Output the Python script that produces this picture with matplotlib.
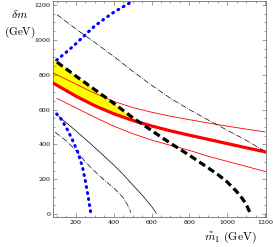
import numpy as np
import matplotlib
matplotlib.use("Agg")
import matplotlib.pyplot as plt
from matplotlib.ticker import MultipleLocator

plt.rcParams['mathtext.fontset'] = 'cm'
plt.rcParams['font.family'] = ['DejaVu Serif']

# blue dotted curves
blue_up_x = [98, 150, 200, 250, 300, 350, 400, 450, 500]
blue_up_y = [884, 930, 978, 1030, 1080, 1120, 1158, 1190, 1222]
blue_lo_x = [98, 120, 150, 180, 210, 235, 250, 265, 278]
blue_lo_y = [575, 548, 495, 430, 355, 270, 190, 100, 10]

# thick black dashed
bk_x = [100, 200, 300, 400, 500, 600, 700, 800, 900, 950, 1000, 1050, 1080, 1100, 1120]
bk_y = [872, 792, 714, 636, 554, 480, 407, 338, 265, 228, 185, 130, 90, 58, 10]

# thick red and thin red band
red_x = [80, 200, 300, 400, 500, 600, 700, 800, 900, 1000, 1100, 1200]
red_y = [752, 677, 622, 576, 538, 506, 478, 453, 429, 405, 381, 358]
red_up_y = [810, 746, 693, 647, 612, 585, 562, 542, 523, 505, 488, 472]
red_lo_x = [100, 200, 300, 400, 500, 600, 700, 800, 900, 1000, 1100, 1200]
red_lo_y = [664, 610, 556, 505, 462, 425, 395, 366, 332, 303, 274, 245]

# yellow region
yel_x = [80, 100, 200, 300, 400, 500, 550]
yel_top = [888, 872, 792, 714, 636, 554, 520]
yel_bot = [752, 740, 677, 622, 576, 538, 520]

# thin black lines
dd_up_x = [100, 200, 300, 400, 500, 600, 700, 800, 900, 1000, 1100, 1190]
dd_up_y = [1145, 1062, 985, 905, 820, 740, 665, 600, 540, 482, 424, 367]
dd_lo_x = [90, 150, 200, 250, 300, 350, 400, 450, 480, 490]
dd_lo_y = [470, 420, 365, 300, 245, 195, 150, 95, 40, 8]
sol_x = [110, 200, 300, 400, 450, 500, 550, 600, 625]
sol_y = [560, 478, 382, 282, 228, 168, 110, 45, 5]

fig = plt.figure(figsize=(2.73, 2.47), dpi=100)
ax = fig.add_axes([0.195, 0.121, 0.779, 0.875])

ax.fill_between(yel_x, yel_bot, yel_top, color='#ffff00', lw=0)
ax.plot(red_x, red_up_y, color='red', lw=0.6)
ax.plot(red_lo_x, red_lo_y, color='red', lw=0.6)
ax.plot(red_x, red_y, color='red', lw=2.3)
ax.plot(dd_up_x, dd_up_y, color='k', lw=0.5, dashes=(8, 2, 1, 2))
ax.plot(dd_lo_x, dd_lo_y, color='k', lw=0.5, dashes=(8, 2, 1, 2))
ax.plot(sol_x, sol_y, color='k', lw=0.5)
ax.plot(bk_x, bk_y, color='k', lw=2.3, dashes=(2.2, 1.2))
ax.plot(blue_up_x, blue_up_y, color='#0000ff', lw=2.2, dashes=(0.3, 1.7),
        dash_capstyle='round')
ax.plot(blue_lo_x, blue_lo_y, color='#0000ff', lw=2.2, dashes=(0.3, 1.7),
        dash_capstyle='round')

ax.set_xlim(80, 1205)
ax.set_ylim(-17, 1223)
ax.xaxis.set_major_locator(MultipleLocator(200))
ax.xaxis.set_minor_locator(MultipleLocator(50))
ax.yaxis.set_major_locator(MultipleLocator(200))
ax.yaxis.set_minor_locator(MultipleLocator(50))
ax.tick_params(which='both', direction='in', top=True, right=True,
               labelsize=4.5, color='#555555', width=0.4, pad=2)
ax.tick_params(which='major', length=3)
ax.tick_params(which='minor', length=1.6)
for s in ax.spines.values():
    s.set_color('#555555')
    s.set_linewidth(0.5)

fig.text(0.073, 0.94, r'$\delta m$', fontsize=8.5, ha='center', va='center')
fig.text(0.073, 0.87, r'$\mathrm{(GeV)}$', fontsize=8, ha='center', va='center')
fig.text(0.842, 0.04, r'$\tilde{m}_1\ \mathrm{(GeV)}$', fontsize=8.5,
         ha='center', va='center')

fig.savefig('out.png', dpi=100)
